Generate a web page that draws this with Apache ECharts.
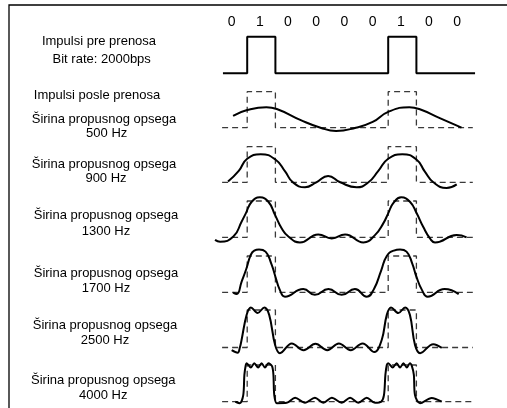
<!DOCTYPE html>
<html><head><meta charset="utf-8">
<script src="https://cdn.jsdelivr.net/npm/echarts@6/dist/echarts.min.js"></script>
<style>html,body{margin:0;padding:0;background:#fff}#c{width:507px;height:408px}</style>
</head><body><div id="c"></div>
<script>
// ---- data ----
const bits = ['0','1','0','0','0','0','1','0','0'];
const topLabels = ['Impulsi pre prenosa', 'Bit rate: 2000bps', 'Impulsi posle prenosa'];
const bandTitle = 'Širina propusnog opsega';
const bandwidths = ['500 Hz','900 Hz','1300 Hz','1700 Hz','2500 Hz','4000 Hz'];

// received waveforms: [bit position, amplitude (0 = baseline, 1 = pulse top)]
const resp500 = [[0.5,0.33],[1.0,0.49],[1.68,0.57],[2.05,0.52],[2.9,0.21],[3.6,0.0],[4.15,-0.09],[4.85,0.0],[5.45,0.16],[6.0,0.44],[6.75,0.57],[7.1,0.52],[7.85,0.26],[8.6,0.0]];
const resp900 = [[0.32,0.02],[0.7,0.32],[1.0,0.66],[1.48,0.79],[2.0,0.64],[2.35,0.3],[2.62,0.0],[3.05,-0.14],[3.45,0.0],[3.87,0.18],[4.3,0.0],[4.88,-0.14],[5.3,0.0],[5.65,0.32],[6.0,0.66],[6.5,0.79],[7.0,0.64],[7.3,0.3],[7.6,0.0],[8.07,-0.16],[8.43,-0.06]];
const resp1300 = [[-0.14,-0.07],[0.04,-0.12],[0.51,0.02],[0.8,0.43],[0.95,0.66],[1.16,0.98],[1.45,1.1],[1.75,0.98],[1.99,0.61],[2.22,0.25],[2.46,0.02],[2.87,-0.14],[3.52,0.08],[4.0,-0.03],[4.47,0.08],[5.12,-0.14],[5.53,0.06],[5.83,0.39],[6.0,0.66],[6.18,0.94],[6.46,1.1],[6.77,0.98],[7.01,0.66],[7.24,0.29],[7.48,-0.03],[7.66,-0.14],[8.43,0.06],[8.78,0.0]];
const resp1700 = [[0.5,-0.01],[0.63,-0.05],[0.8,0.29],[0.97,0.65],[1.12,1.02],[1.25,1.15],[1.42,1.18],[1.65,1.12],[1.85,0.8],[2.0,0.43],[2.16,0.06],[2.34,-0.12],[2.99,0.09],[3.4,-0.07],[3.88,0.09],[4.35,-0.07],[4.82,0.09],[5.24,-0.12],[5.5,0.1],[5.75,0.6],[5.95,1.0],[6.2,1.15],[6.42,1.18],[6.65,1.12],[6.85,0.8],[7.0,0.43],[7.2,0.06],[7.4,-0.12],[8.0,0.09],[8.5,-0.05]];
const resp2500 = [[0.45,-0.07],[0.66,-0.14],[0.74,0.0],[0.8,0.2],[0.98,0.87],[1.13,1.07],[1.37,0.92],[1.61,1.07],[1.78,0.87],[1.99,0.07],[2.16,-0.15],[2.58,0.11],[3.0,-0.07],[3.42,0.1],[3.84,-0.07],[4.25,0.11],[4.67,-0.07],[5.09,0.11],[5.51,-0.12],[5.77,0.2],[5.95,0.87],[6.1,1.07],[6.36,0.92],[6.6,1.07],[6.77,0.87],[6.95,0.07],[7.13,-0.15],[7.6,0.09],[7.9,-0.01]];
const resp4000 = [[0.58,0.0],[0.74,-0.04],[0.86,0.18],[0.9,0.73],[0.95,1.0],[0.98,1.05],[1.13,0.93],[1.25,1.05],[1.39,0.93],[1.51,1.05],[1.63,0.93],[1.75,1.05],[1.88,0.97],[1.93,0.73],[1.96,0.18],[2.05,-0.04],[2.4,-0.03],[2.7,0.11],[3.05,-0.03],[3.4,0.11],[3.7,-0.03],[4.0,0.11],[4.35,-0.03],[4.65,0.11],[4.94,-0.03],[5.24,0.11],[5.53,-0.03],[5.75,0.0],[5.85,0.18],[5.9,0.73],[5.95,1.0],[6.0,1.05],[6.16,0.93],[6.3,1.05],[6.42,0.93],[6.54,1.05],[6.66,0.93],[6.77,1.05],[6.84,0.97],[6.91,0.73],[6.95,0.18],[7.13,-0.04],[7.54,0.1],[7.9,0.0]];
const responses = [resp500, resp900, resp1300, resp1700, resp2500, resp4000];

// ---- layout ----
const rowTop = [36.7, 91.7, 146.7, 201, 256, 310, 365];   // pixel of pulse top
const rowUnit = [36.6, 36, 35.6, 36.3, 36.3, 37.5, 36.7]; // pixel height of one amplitude unit
const rowSmooth = [0, 0.5, 0.5, 0.5, 0.5, 0.4, 0.3];
const bitPx = 28.2, bit0Px = 219, xMin = -0.3, xMax = 9.2;
const textPos = [[99,41.7],[101.7,59.3],[97,95]];
const bandPos = [[104,119.3,106.7,133.3],[104,164.3,106,178.3],[106,215,106,231.7],[106,273.3,106,288.3],[105,325.7,105,340.7],[103.3,380,103.3,395]];

function pulse(b, x0, x1) {
  const d = [[x0, 0]]; let prev = 0;
  b.forEach((s, i) => { const v = +s; if (v !== prev) { d.push([i, prev]); d.push([i, v]); prev = v; } });
  d.push([x1, prev]);
  return d;
}

const grids = [], xAxes = [], yAxes = [], series = [];
rowTop.forEach((t, r) => {
  const h = rowUnit[r];
  grids.push({left: bit0Px + xMin * bitPx, width: (xMax - xMin) * bitPx, top: t - 0.5 * h, height: 2 * h, outerBoundsMode: 'none', containLabel: false});
  xAxes.push({type: 'value', gridIndex: r, min: xMin, max: xMax, show: false});
  yAxes.push({type: 'value', gridIndex: r, min: -0.5, max: 1.5, show: false});
  if (r === 0) {
    series.push({type: 'line', xAxisIndex: 0, yAxisIndex: 0, data: pulse(bits, 0.14, 9.08), symbol: 'none', silent: true,
      lineStyle: {color: '#000', width: 2}});
  } else {
    series.push({type: 'line', xAxisIndex: r, yAxisIndex: r, data: pulse(bits, 0.11, 9.0), symbol: 'none', silent: true, z: 1,
      lineStyle: {color: '#3a3a3a', width: 1.3, type: [6, 4]}});
    series.push({type: 'line', xAxisIndex: r, yAxisIndex: r, data: responses[r - 1], symbol: 'none', silent: true, z: 3,
      smooth: rowSmooth[r], lineStyle: {color: '#000', width: 2}});
  }
});
// bit label row
grids.push({left: bit0Px - 1.5, width: bits.length * bitPx, top: 34, height: 10, outerBoundsMode: 'none', containLabel: false});
xAxes.push({type: 'category', gridIndex: 7, data: bits, position: 'top', axisLine: {show: false}, axisTick: {show: false},
  splitLine: {show: false}, axisLabel: {margin: 5, fontSize: 14, color: '#000', fontFamily: 'Liberation Sans, Arial, sans-serif'}});
yAxes.push({type: 'value', gridIndex: 7, show: false});

const txt = (s, x, y) => ({type: 'text', x: x, y: y, silent: true,
  style: {text: s, fill: '#000', font: '13px "Liberation Sans", Arial, sans-serif', textAlign: 'center', textVerticalAlign: 'middle'}});
const graphic = [
  {type: 'polyline', silent: true, shape: {points: [[9, 410], [9, 5], [510, 5]]}, style: {stroke: '#000', lineWidth: 1.3, fill: null}}
];
topLabels.forEach((s, i) => graphic.push(txt(s, textPos[i][0], textPos[i][1])));
bandwidths.forEach((s, i) => { const p = bandPos[i]; graphic.push(txt(bandTitle, p[0], p[1])); graphic.push(txt(s, p[2], p[3])); });

const chart = echarts.init(document.getElementById('c'), null, {renderer: 'canvas'});
chart.setOption({animation: false, backgroundColor: '#fff', grid: grids, xAxis: xAxes, yAxis: yAxes, series: series, graphic: graphic});
</script></body></html>
